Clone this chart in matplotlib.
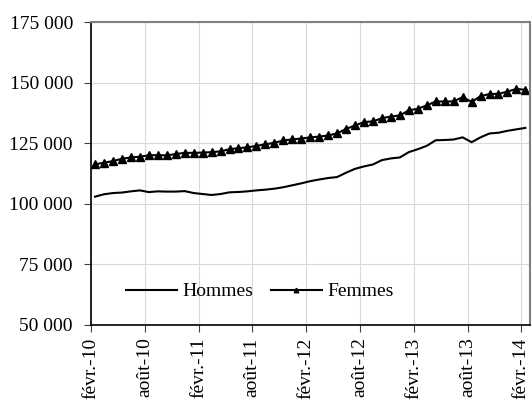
import numpy as np
import matplotlib.pyplot as plt
from matplotlib import ticker

plt.rcParams['font.family'] = ['Liberation Serif', 'DejaVu Serif']

# monthly values, févr.-10 .. févr.-14
hommes = [102900, 103900, 104400, 104600, 105100, 105500, 104800, 105100, 105000, 105000,
          105200, 104400, 104000, 103600, 104000, 104700, 104850, 105100, 105500, 105800,
          106200, 106800, 107600, 108400, 109300, 110000, 110600, 111000, 112800, 114400,
          115400, 116200, 118000, 118700, 119100, 121300, 122500, 123900, 126200, 126300,
          126500, 127400, 125400, 127400, 129000, 129300, 130100, 130700, 131300]
femmes = [116300, 116900, 117600, 118550, 119100, 119400, 120000, 120050, 119950, 120500,
          121000, 121000, 121100, 121300, 121600, 122500, 122950, 123250, 123900, 124500,
          125150, 126100, 126550, 126900, 127400, 127700, 128200, 129000, 130900, 132300,
          133700, 134000, 135300, 136000, 136450, 138550, 139200, 140600, 142200, 142200,
          142250, 144000, 142050, 144400, 145300, 145350, 146300, 147400, 147000]
tick_labels = ['févr.-10', 'août-10', 'févr.-11', 'août-11', 'févr.-12',
               'août-12', 'févr.-13', 'août-13', 'févr.-14']

x = np.arange(len(hommes)) + 0.45

fig = plt.figure(figsize=(5.32, 4.01), dpi=100)
ax = fig.add_axes([0.171, 0.19, 0.825, 0.755])

ax.plot(x, hommes, color='black', lw=1.5, label='Hommes')
ax.plot(x, femmes, color='black', lw=1.5, marker='^', markersize=5.5, label='Femmes')

ax.set_xlim(0, 48.95)
ax.set_ylim(50000, 175000)
ax.set_yticks(np.arange(50000, 175001, 25000))
ax.yaxis.set_major_formatter(ticker.FuncFormatter(lambda v, p: '{:,.0f}'.format(v).replace(',', ' ')))
ax.set_xticks(np.arange(0, 49, 6))
ax.set_xticklabels(tick_labels, rotation=90, va='top', ha='center')

ax.grid(True, color='#d9d9d9', lw=0.8)
ax.set_axisbelow(True)
ax.tick_params(axis='both', labelsize=14, length=5, width=0.8, color='#404040')
ax.tick_params(axis='y', pad=8)
ax.tick_params(axis='x', pad=4)

for s in ['left', 'bottom']:
    ax.spines[s].set_color('black')
    ax.spines[s].set_linewidth(1.2)
for s in ['top', 'right']:
    ax.spines[s].set_color('#808080')
    ax.spines[s].set_linewidth(1.5)

leg = ax.legend(loc='center', bbox_to_anchor=(0.385, 0.11), ncol=2, frameon=False,
                fontsize=14, handlelength=2.6, columnspacing=0.9, handletextpad=0.3,
                markerscale=0.6)

fig.savefig('out.png', dpi=100)
